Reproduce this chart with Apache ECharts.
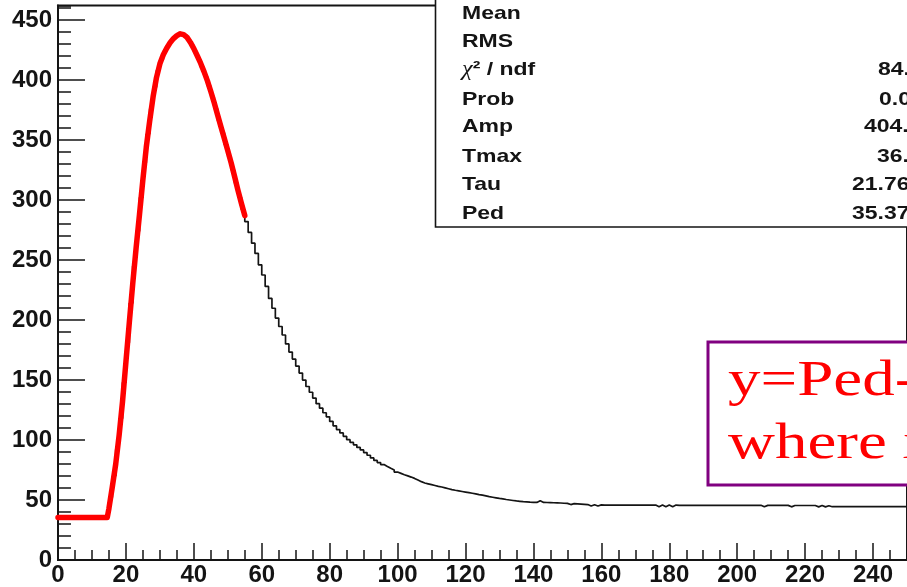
<!DOCTYPE html>
<html>
<head>
<meta charset="utf-8">
<script src="https://cdn.jsdelivr.net/npm/echarts@6/dist/echarts.min.js"></script>
<style>
  html, body { margin: 0; padding: 0; background: #ffffff; }
  #chart { width: 907px; height: 587px; }
</style>
</head>
<body>
<div id="chart"></div>
<script>
// Pulse histogram: one bin per time sample, starting at 0
const binLow = 0;
const binWidth = 1;
const counts = [
  35.3, 35.5, 35.2, 35.6, 35.4, 35.3, 35.5, 35.4, 35.2, 35.6,
  35.4, 35.3, 35.5, 35.4, 36.8, 52, 70, 92, 118, 148,
  181, 214, 245, 274, 302, 331, 355, 376, 394, 408,
  417, 424, 429, 433, 436, 438, 438.5, 437, 433.5, 429,
  423, 417, 410.5, 403, 395, 386, 376, 366, 356, 346,
  336, 325, 314, 302.5, 292, 282, 273, 264, 255.5, 246,
  237.5, 228, 218, 209.8, 201.6, 194.6, 187.5, 180.1, 173.3, 167.4,
  161.6, 155.8, 149.9, 144.6, 139.8, 134.9, 130.3, 126.5, 122.7, 119.3,
  115.5, 111.8, 108.7, 105.9, 103.1, 100.3, 98.0, 96.0, 93.8, 91.7,
  89.5, 87.3, 85.1, 83.0, 81.2, 79.5, 77.9, 76.4, 75.0, 73.3,
  72.2, 71.1, 70.1, 69.1, 68.0, 66.7, 65.3, 64.2, 63.5, 62.8,
  62.1, 61.4, 60.8, 60.1, 59.4, 58.7, 58.1, 57.6, 57.1, 56.6,
  56.1, 55.6, 55.1, 54.5, 54.0, 53.4, 52.8, 52.3, 51.8, 51.3,
  50.9, 50.4, 50.0, 49.6, 49.2, 48.9, 48.6, 48.4, 48.2, 48.1,
  48.0, 49.4, 48.0, 47.9, 47.8, 47.7, 47.6, 47.5, 47.3, 47.2,
  46.2, 47.0, 46.8, 46.6, 46.4, 46.2, 45.0, 46.0, 45.0, 45.9,
  45.8, 45.8, 45.8, 45.8, 45.8, 45.8, 45.8, 45.8, 45.8, 45.8,
  45.8, 45.8, 45.8, 45.8, 45.8, 45.8, 44.4, 45.8, 44.4, 45.8,
  44.4, 45.8, 45.6, 45.6, 45.6, 45.6, 45.6, 45.6, 45.6, 45.6,
  45.6, 45.6, 45.6, 45.6, 45.6, 45.6, 45.6, 45.6, 45.6, 45.6,
  45.6, 45.6, 45.6, 45.6, 45.6, 45.6, 45.6, 44.3, 45.5, 45.5,
  45.5, 45.5, 45.5, 45.5, 45.5, 44.3, 45.4, 45.4, 45.4, 45.4,
  45.4, 45.4, 45.4, 44.3, 45.4, 44.3, 45.2, 44.4, 44.4, 44.4,
  44.4, 44.4, 44.4, 44.4, 44.4, 44.4, 44.4, 44.4, 44.4, 44.4,
  44.4, 44.4, 44.4, 44.4, 44.4, 44.4, 44.4, 44.4, 44.4, 44.4
];

// Fitted pulse shape over the fit range
const fitT = [0, 14.5, 15, 16, 17, 18, 19, 20, 21, 22, 23, 24, 25, 26, 27, 28, 29,
  30, 31, 32, 33, 34, 35, 36, 37, 38, 39, 40, 41, 42, 43, 44, 45, 46, 47, 48, 49,
  50, 51, 52, 53, 54, 55];
const fitY = [35.37, 35.37, 43, 61, 80, 104, 132, 165, 198, 230, 260, 288, 317, 344, 366, 386, 402,
  413.5, 421, 426.5, 431, 434.5, 437, 438.5, 437.8, 435.5, 431.3, 426.2, 420.2, 414, 407, 399.3, 390.4, 381, 370.8, 360.8, 351,
  341, 330.8, 319.6, 308, 297.3, 287];

// Axis ranges and tick spacing
const xRange = [0, 250];
const yRange = [0, 462];
const xMajor = 20, xMinor = 5;
const yMajor = 50, yMinor = 10;

// Fit statistics box
const statNames = ['Mean', 'RMS', '{c|\u03c7}{n|\u00b2 / ndf}', 'Prob', 'Amp', 'Tmax', 'Tau', 'Ped'];
const statValues = ['', '', '84.51 / 235', '0.0000', '404.2 \u00b1 0.6', '36.2 \u00b1 0.03', '21.76 \u00b1 0.05', '35.37 \u00b1 0.11'];

// Formula note
const noteLines = ['y=Ped- Amp\u00b7x\u00b7exp(1-x)', 'where x=(t-Tmax)/Tau+1'];

const histData = counts.map((v, i) => [binLow + i * binWidth, v]);
histData.push([binLow + counts.length * binWidth, counts[counts.length - 1]]);
const fitData = fitT.map((t, i) => [t, fitY[i]]);

const sans = '"Liberation Sans", Arial, Helvetica, sans-serif';
const serif = '"Liberation Serif", "Times New Roman", serif';
const ink = '#141414';

const gridBox = { left: 58, top: 5.6, width: 862.5, height: 554.4 };

const statRows = [13.3, 41.7, 70, 100, 126.7, 156.7, 185, 213.3];
const statValueX = [0, 0, 878, 879, 864, 877, 852, 852];

const graphics = [
  {
    type: 'rect', z: 100, silent: true,
    shape: { x: 435.5, y: -10, width: 600, height: 237 },
    style: { fill: '#ffffff', stroke: ink, lineWidth: 1.6 }
  }
];
statNames.forEach((name, i) => {
  graphics.push({
    type: 'text', z: 101, silent: true, x: 462, y: statRows[i], scaleX: 1.21,
    style: {
      text: name, fill: ink, font: 'bold 19px ' + sans,
      verticalAlign: 'middle', align: 'left',
      rich: {
        c: { fontFamily: serif, fontStyle: 'italic', fontWeight: 'normal', fontSize: 20, fill: ink },
        n: { fontFamily: sans, fontWeight: 'bold', fontSize: 19, fill: ink }
      }
    }
  });
  if (statValues[i]) {
    graphics.push({
      type: 'text', z: 101, silent: true, x: statValueX[i], y: statRows[i], scaleX: 1.21,
      style: { text: statValues[i], fill: ink, font: 'bold 19px ' + sans, verticalAlign: 'middle', align: 'left' }
    });
  }
});
graphics.push({
  type: 'rect', z: 100, silent: true,
  shape: { x: 708, y: 342, width: 400, height: 143 },
  style: { fill: '#ffffff', stroke: '#800080', lineWidth: 3 }
});
noteLines.forEach((line, i) => {
  graphics.push({
    type: 'text', z: 101, silent: true, x: 728, y: [382, 445][i], scaleX: 1.3,
    style: { text: line, fill: '#ff0000', font: '50px ' + serif, verticalAlign: 'middle', align: 'left' }
  });
});

const chart = echarts.init(document.getElementById('chart'), null, { renderer: 'canvas' });
chart.setOption({
  animation: false,
  backgroundColor: '#ffffff',
  grid: [
    Object.assign({ show: true, borderColor: ink, borderWidth: 2, backgroundColor: 'transparent' }, gridBox),
    Object.assign({ show: false }, gridBox)
  ],
  xAxis: [
    {
      type: 'value', gridIndex: 0, min: xRange[0], max: xRange[1], interval: xMajor,
      axisLine: { show: true, onZero: false, lineStyle: { color: ink, width: 2 } },
      axisTick: { show: true, inside: true, length: 17, lineStyle: { color: ink, width: 1.5 } },
      axisLabel: { show: true, showMaxLabel: false, margin: 3, color: ink, fontSize: 24, fontWeight: 'bold', fontFamily: sans },
      splitLine: { show: false }
    },
    {
      type: 'value', gridIndex: 1, min: xRange[0], max: xRange[1], interval: xMinor,
      axisLine: { show: false },
      axisTick: { show: true, inside: true, length: 10, lineStyle: { color: ink, width: 1.5 } },
      axisLabel: { show: false },
      splitLine: { show: false }
    }
  ],
  yAxis: [
    {
      type: 'value', gridIndex: 0, min: yRange[0], max: yRange[1], interval: yMajor,
      axisLine: { show: true, onZero: false, lineStyle: { color: ink, width: 2 } },
      axisTick: { show: true, inside: true, length: 27, lineStyle: { color: ink, width: 1.5 } },
      axisLabel: { show: true, showMaxLabel: false, margin: 6, color: ink, fontSize: 24, fontWeight: 'bold', fontFamily: sans },
      splitLine: { show: false }
    },
    {
      type: 'value', gridIndex: 1, min: yRange[0], max: yRange[1], interval: yMinor,
      axisLine: { show: false },
      axisTick: { show: true, inside: true, length: 13, lineStyle: { color: ink, width: 1.5 } },
      axisLabel: { show: false },
      splitLine: { show: false }
    }
  ],
  series: [
    {
      name: 'signal', type: 'line', xAxisIndex: 0, yAxisIndex: 0, step: 'end',
      data: histData, showSymbol: false, silent: true, z: 2,
      lineStyle: { color: ink, width: 1.7 }
    },
    {
      name: 'fit', type: 'line', xAxisIndex: 0, yAxisIndex: 0,
      data: fitData, showSymbol: false, silent: true, z: 3,
      lineStyle: { color: '#ff0000', width: 5.5, join: 'round', cap: 'round' }
    },
    {
      name: 'frame', type: 'line', xAxisIndex: 1, yAxisIndex: 1, data: [], silent: true
    }
  ],
  graphic: graphics
});
</script>
</body>
</html>
